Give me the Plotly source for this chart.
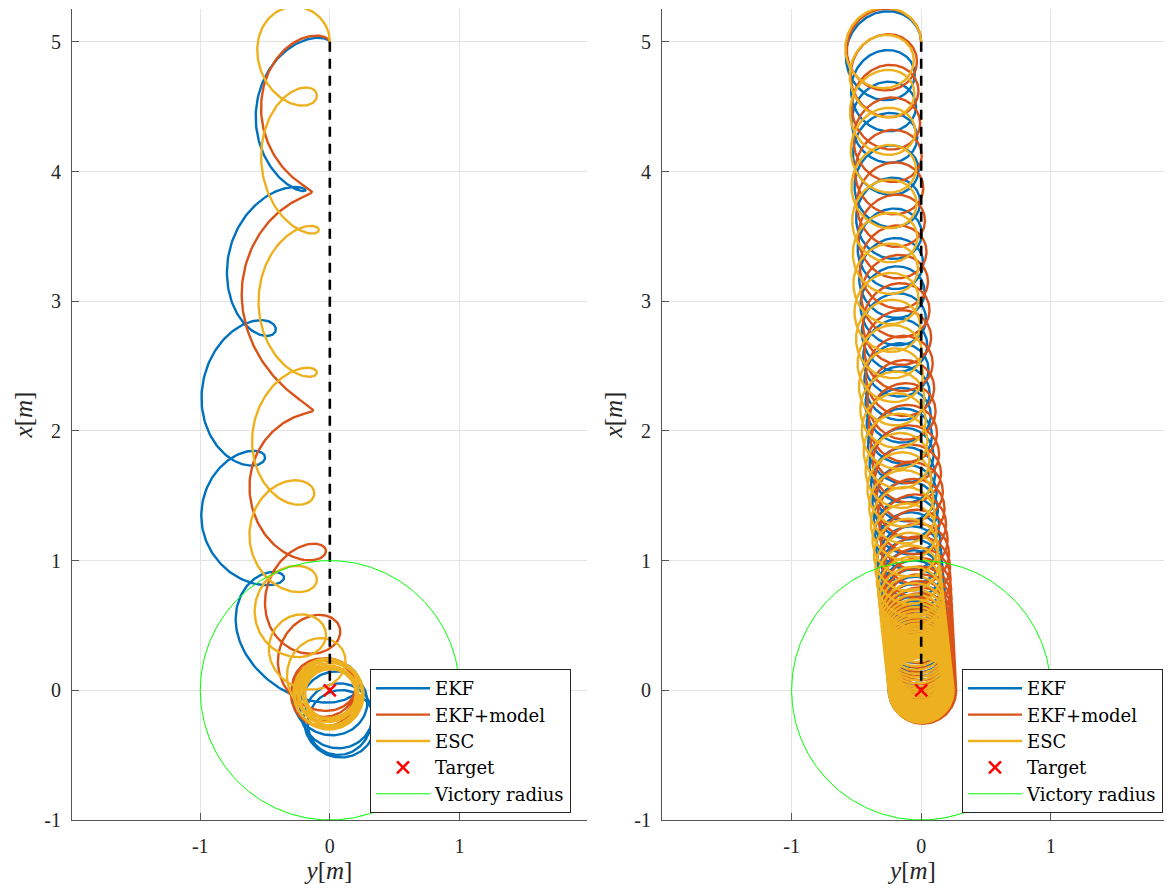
import numpy as np
import plotly.graph_objects as go

# ---------------- data ----------------
# Left panel: trajectory extremes at every half turn (rightmost / leftmost points)
# ext_y, ext_x = position of the extreme point, rad = local loop radius
L_EKF_ext_y = [0.00, -0.57, -0.19, -0.79, -0.42, -0.99, -0.50, -0.99, -0.36, -0.72,
               0.22, -0.29, 0.29, -0.23, 0.33, -0.20, 0.35, -0.17, 0.32]
L_EKF_ext_x = [5.00, 4.47, 3.86, 3.30, 2.80, 2.26, 1.80, 1.30, 0.85, 0.47,
               0.02, -0.05, -0.10, -0.15, -0.20, -0.23, -0.26, -0.26, -0.22]
L_EKF_rad = [0.21, 0.27, 0.22, 0.30, 0.26, 0.29, 0.24, 0.25, 0.20, 0.28,
             0.27, 0.27, 0.27, 0.27, 0.27, 0.27, 0.27, 0.26, 0.25]

L_EKFM_ext_y = [0.00, -0.53, -0.14, -0.68, -0.13, -0.62, -0.03, -0.50, 0.08, -0.40,
                0.20, -0.30, 0.21, -0.29, 0.20, -0.27, 0.19]
L_EKFM_ext_x = [5.00, 4.52, 3.84, 3.05, 2.16, 1.57, 1.07, 0.65, 0.44, 0.20,
                0.02, -0.03, -0.02, 0.02, 0.03, 0.00, -0.02]
L_EKFM_rad = [0.21, 0.26, 0.20, 0.28, 0.20, 0.27, 0.25, 0.24, 0.25, 0.25,
              0.25, 0.25, 0.25, 0.24, 0.23, 0.23, 0.22]

L_ESC_ext_y = [0.00, -0.56, -0.10, -0.53, -0.085, -0.55, -0.10, -0.60, -0.12, -0.62,
               -0.10, -0.58, -0.03, -0.47, 0.12, -0.33, 0.22, -0.28, 0.26, -0.28,
               0.25, -0.24, 0.22, -0.21, 0.20, -0.19, 0.21, -0.23, 0.25, -0.27,
               0.26, -0.25, 0.23]
L_ESC_ext_x = [5.00, 4.94, 4.59, 4.11, 3.55, 3.00, 2.45, 1.93, 1.52, 1.18,
               0.85, 0.60, 0.42, 0.30, 0.20, 0.10, 0.00, -0.02, -0.03, -0.03,
               -0.03, -0.03, -0.02, -0.03, -0.03, -0.02, -0.03, -0.03, -0.03, -0.03,
               -0.03, -0.03, -0.03]
L_ESC_rad = [0.28, 0.28, 0.24, 0.23, 0.24, 0.23, 0.24, 0.25, 0.25, 0.25,
             0.22, 0.25, 0.23, 0.23, 0.25, 0.25, 0.26, 0.26, 0.27, 0.26,
             0.25, 0.23, 0.21, 0.20, 0.19, 0.19, 0.21, 0.23, 0.25, 0.27,
             0.27, 0.25, 0.23]

# Right panel: loop centre height (x) at every full turn
R_EKF_cx = [5.00, 4.75, 4.50, 4.26, 4.01, 3.76, 3.52, 3.29, 3.07, 2.86, 2.66, 2.47,
            2.29, 2.12, 1.96, 1.81, 1.66, 1.52, 1.39, 1.27, 1.15, 1.04, 0.94, 0.85,
            0.77, 0.70, 0.64, 0.585, 0.535, 0.49, 0.45, 0.415, 0.38, 0.35, 0.32,
            0.29, 0.265, 0.24, 0.215, 0.19, 0.17, 0.15, 0.13, 0.115, 0.10, 0.085,
            0.07, 0.055, 0.045, 0.035, 0.025, 0.015, 0.005, 0.00]
R_EKFM_cx = [5.00, 4.85, 4.62, 4.37, 4.12, 3.87, 3.62, 3.38, 3.15, 2.93, 2.72, 2.52,
             2.33, 2.15, 1.98, 1.82, 1.67, 1.53, 1.40, 1.28, 1.16, 1.05, 0.95, 0.86,
             0.78, 0.71, 0.65, 0.595, 0.545, 0.50, 0.46, 0.425, 0.39, 0.36, 0.33,
             0.30, 0.275, 0.25, 0.225, 0.20, 0.18, 0.16, 0.14, 0.12, 0.105, 0.09,
             0.075, 0.06, 0.05, 0.04, 0.03, 0.02, 0.01, 0.00]
R_ESC_cx = [5.00, 4.86, 4.60, 4.31, 4.02, 3.75, 3.49, 3.25, 3.02, 2.81, 2.61, 2.43,
            2.25, 2.08, 1.92, 1.77, 1.62, 1.48, 1.35, 1.22, 1.10, 0.99, 0.89, 0.80,
            0.72, 0.65, 0.59, 0.54, 0.50, 0.46, 0.43, 0.40, 0.37, 0.345, 0.32,
            0.295, 0.27, 0.25, 0.23, 0.21, 0.19, 0.17, 0.155, 0.14, 0.125, 0.11,
            0.095, 0.08, 0.065, 0.05, 0.04, 0.03, 0.02, 0.01, 0.00, 0.00]
# band centre line (lateral offset of the loops) versus height
R_line_x = [0, 1, 2, 3, 4, 5]
R_EKF_line_y = [0.00, -0.09, -0.17, -0.22, -0.27, -0.31]
R_EKFM_line_y = [0.01, -0.04, -0.14, -0.20, -0.25, -0.30]
R_ESC_line_y = [0.00, -0.11, -0.21, -0.27, -0.29, -0.31]
R_EKF_rad = [0.31, 0.25]      # first turn, remaining turns
R_EKFM_rad = [0.30, 0.26]
R_ESC_rad = [0.31, 0.25]

start_xy = [0.0, 5.0]     # (y, x)
target_xy = [0.0, 0.0]
victory_radius = 1.0

series_names = ["EKF", "EKF+model", "ESC"]
series_colors = ["#0072BD", "#D95319", "#EDB120"]


# ---------------- helpers ----------------
def catmull(P, s):
    P = np.asarray(P, float)
    n = len(P)
    Pp = np.concatenate([[2 * P[0] - P[1]], P, [2 * P[-1] - P[-2]]])
    i = np.clip(np.floor(s).astype(int), 0, n - 2)
    t = s - i
    p0, p1, p2, p3 = Pp[i], Pp[i + 1], Pp[i + 2], Pp[i + 3]
    return 0.5 * (2 * p1 + (-p0 + p2) * t + (2 * p0 - 5 * p1 + 4 * p2 - p3) * t ** 2
                  + (-p0 + 3 * p1 - 3 * p2 + p3) * t ** 3)


def loop_path(cy, cx, r, step, n_per):
    n = len(cx)
    s = np.linspace(0, n - 1, (n - 1) * n_per + 1)
    th = step * s
    CY, CX, R = catmull(cy, s), catmull(cx, s), catmull(r, s)
    return CY + R * np.cos(th), CX + R * np.sin(th)


def left_path(ey, ex, rad):
    ey, rad = np.asarray(ey, float), np.asarray(rad, float)
    sign = np.cos(np.pi * np.arange(len(ey)))
    cy = ey - rad * sign
    return loop_path(cy, ex, rad, np.pi, 60)


def right_path(cxs, line_y, rad):
    cxs = np.asarray(cxs, float)
    cy = np.interp(cxs, R_line_x, line_y)
    r = np.full(len(cxs), rad[1])
    r[0] = rad[0]
    cy[0] = start_xy[0] - r[0]
    return loop_path(cy, cxs, r, 2 * np.pi, 150)


left_data = [(L_EKF_ext_y, L_EKF_ext_x, L_EKF_rad),
             (L_EKFM_ext_y, L_EKFM_ext_x, L_EKFM_rad),
             (L_ESC_ext_y, L_ESC_ext_x, L_ESC_rad)]
right_data = [(R_EKF_cx, R_EKF_line_y, R_EKF_rad),
              (R_EKFM_cx, R_EKFM_line_y, R_EKFM_rad),
              (R_ESC_cx, R_ESC_line_y, R_ESC_rad)]

fig = go.Figure()
ang = np.linspace(0, 2 * np.pi, 400)
font_family = "Liberation Serif"
legend_family = "DejaVu Serif"

for panel in (1, 2):
    xa = "x" if panel == 1 else "x2"
    ya = "y" if panel == 1 else "y2"
    lg = "legend" if panel == 1 else "legend2"
    for k in range(3):
        if panel == 1:
            py, px = left_path(*left_data[k])
        else:
            py, px = right_path(*right_data[k])
        fig.add_trace(go.Scatter(x=py, y=px, mode="lines", name=series_names[k],
                                 line=dict(color=series_colors[k], width=2.4),
                                 xaxis=xa, yaxis=ya, legend=lg))
    fig.add_trace(go.Scatter(x=[start_xy[0], target_xy[0]], y=[start_xy[1], target_xy[1]],
                             mode="lines", line=dict(color="black", width=2.6, dash="10px,7px"),
                             showlegend=False, xaxis=xa, yaxis=ya, legend=lg))
    fig.add_trace(go.Scatter(x=[target_xy[0]], y=[target_xy[1]], mode="markers", name="Target",
                             marker=dict(symbol="x-thin", size=12, color="red",
                                         line=dict(color="red", width=2.5)),
                             xaxis=xa, yaxis=ya, legend=lg))
    fig.add_trace(go.Scatter(x=target_xy[0] + victory_radius * np.cos(ang),
                             y=target_xy[1] + victory_radius * np.sin(ang),
                             mode="lines", name="Victory radius",
                             line=dict(color="#00FF00", width=1),
                             xaxis=xa, yaxis=ya, legend=lg))

# page offset of the plot div (browser body margin)
OFF = 8
W, H = 1172 - 2 * OFF, 892 - 2 * OFF
PXU = 129.7                      # pixels per metre in the reference
y_lo = -1.0
bottom_px = 820 - OFF
y_hi = y_lo + (bottom_px - 1) / PXU
top_px = bottom_px - (y_hi - y_lo) * PXU


def fx(p):
    return (p - OFF) / W


axcommon = dict(showgrid=True, gridcolor="#E3E3E3", gridwidth=1, zeroline=False,
                showline=True, linecolor="#555555", linewidth=1, mirror=False,
                ticks="inside", ticklen=7, tickcolor="#555555", automargin=False,
                tickfont=dict(family=font_family, size=20, color="#262626"))
xt = [-1, 0, 1]
yt = [-1, 0, 1, 2, 3, 4, 5]
xtitle = dict(text="<i>y</i>[<i>m</i>]", font=dict(family=font_family, size=25, color="#262626"),
              standoff=6)
ytitle = dict(text="<i>x</i>[<i>m</i>]", font=dict(family=font_family, size=25, color="#262626"),
              standoff=4)

yd = [1 - bottom_px / H, min(1.0, 1 - top_px / H)]
legend_common = dict(y=1 - (669 - OFF) / H, xanchor="left", yanchor="top", bgcolor="white",
                     bordercolor="#262626", borderwidth=1, tracegroupgap=0, itemwidth=54,
                     font=dict(family=legend_family, size=18, color="black"))
x_right_end = (1172 - OFF - 921) / PXU
fig.update_layout(
    width=W, height=H, margin=dict(l=0, r=0, t=0, b=0),
    paper_bgcolor="white", plot_bgcolor="white",
    xaxis=dict(domain=[fx(72), fx(587)], range=[-1.99, 1.985], tickvals=xt,
               ticktext=[str(v) for v in xt], anchor="y", title=xtitle,
               ticklabelstandoff=8, **axcommon),
    yaxis=dict(domain=yd, range=[y_lo, y_hi], tickvals=yt, ticktext=[str(v) for v in yt],
               anchor="x", title=ytitle, ticklabelstandoff=6, **axcommon),
    xaxis2=dict(domain=[fx(662), 1.0], range=[-2.0, x_right_end], tickvals=xt,
                ticktext=[str(v) for v in xt], anchor="y2", title=xtitle,
                ticklabelstandoff=8, **axcommon),
    yaxis2=dict(domain=yd, range=[y_lo, y_hi], tickvals=yt, ticktext=[str(v) for v in yt],
                anchor="x2", title=ytitle, ticklabelstandoff=6, **axcommon),
    legend=dict(x=fx(370), **legend_common),
    legend2=dict(x=fx(962), **legend_common),
    showlegend=True,
)

fig.write_html("out.html")
